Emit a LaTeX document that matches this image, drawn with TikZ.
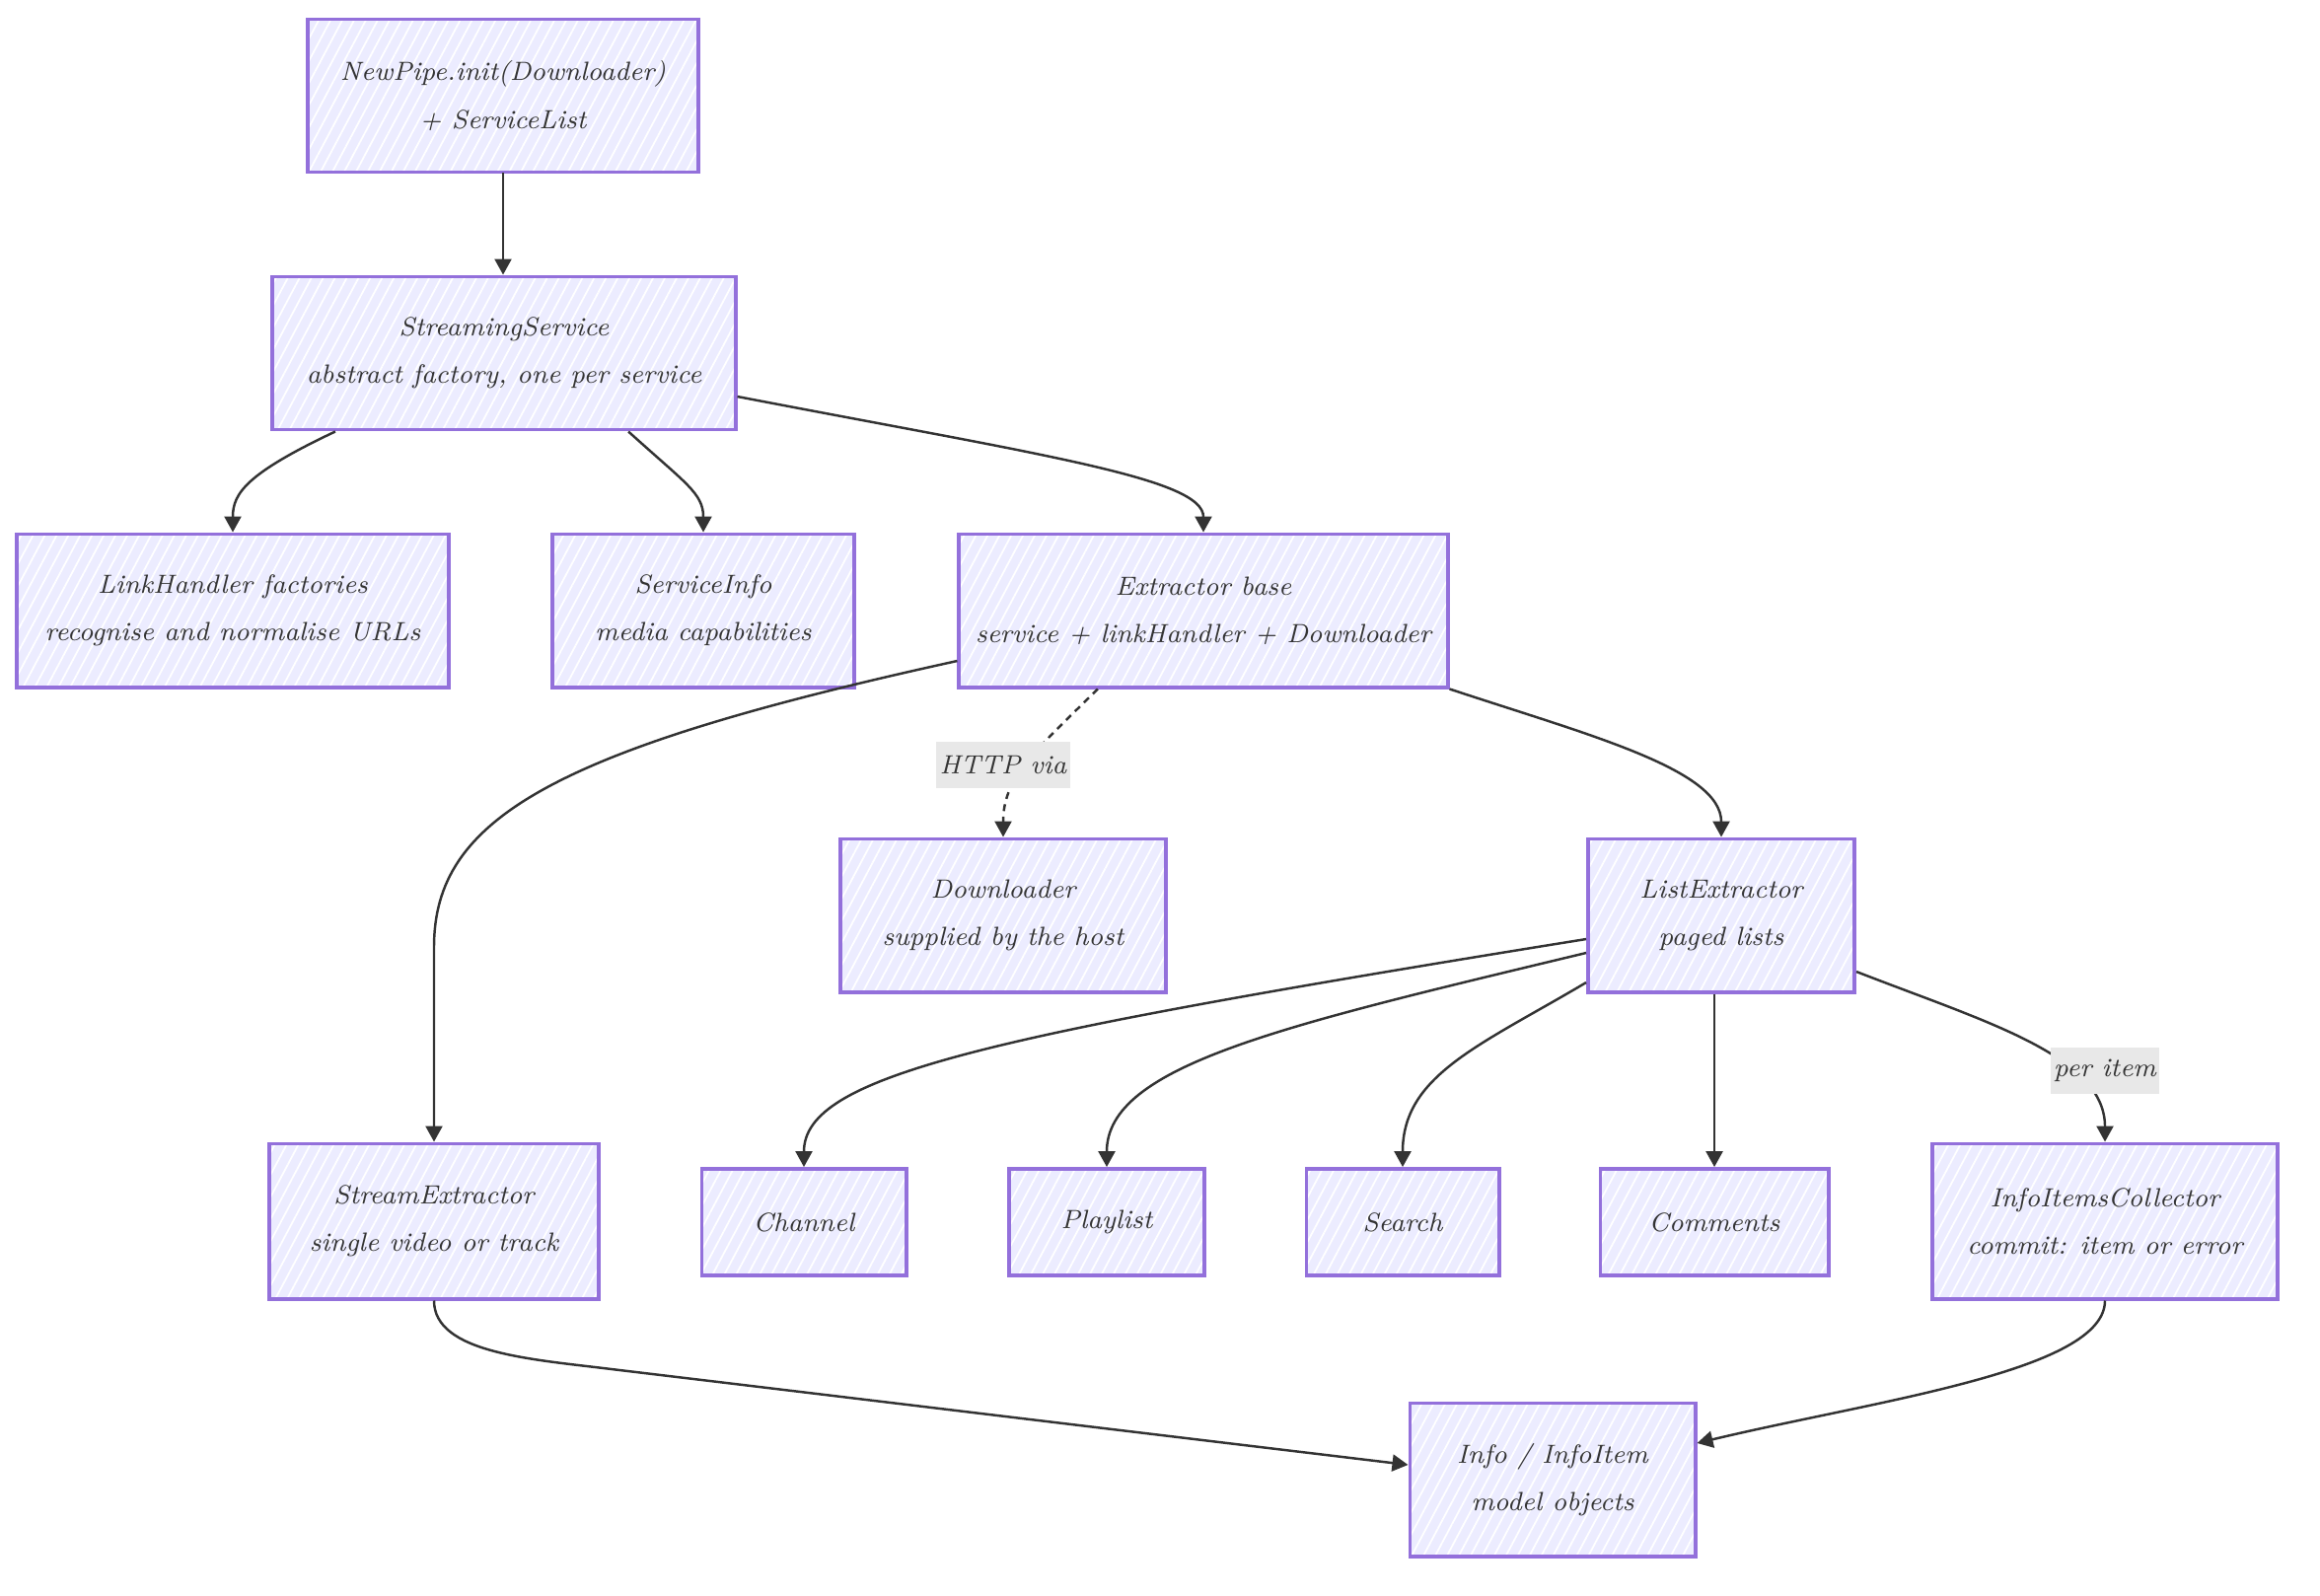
\documentclass[tikz,border=0pt]{standalone}
\usepackage{tikz}
\usetikzlibrary{arrows.meta,patterns.meta}
\definecolor{boxfill}{HTML}{ECECFF}
\definecolor{boxline}{HTML}{9370DB}
\definecolor{edgegray}{HTML}{333333}
\definecolor{lblgray}{HTML}{E8E8E8}
\tikzset{
  box/.style={preaction={fill=boxfill}, draw=boxline, line width=1.1pt, align=center, text=edgegray,
    pattern={Lines[angle=62,distance=3pt,line width=0.5pt]}, pattern color=white,
    minimum height=1.55cm, inner sep=2pt},
  smallbox/.style={box, minimum height=1.08cm},
  lbl/.style={fill=lblgray, text=edgegray, inner sep=1pt, minimum height=0.47cm},
  edge/.style={draw=edgegray, line width=0.7pt, -{Triangle[length=0.16cm,width=0.17cm]}}
}
\begin{document}
\begin{tikzpicture}[x=0.01cm, y=-0.01cm, font=\fontsize{7.6}{13.7}\selectfont\itshape]
\useasboundingbox (0,0) rectangle (2352,1617);
% boxes
\node[box, minimum width=3.96cm] (newpipe) at (510,97) {NewPipe.init(Downloader)\\+ ServiceList};
\node[box, minimum width=4.69cm] (streaming) at (511,358) {StreamingService\\abstract factory, one per service};
\node[box, minimum width=4.37cm] (linkh) at (236,619) {LinkHandler factories\\recognise and normalise URLs};
\node[box, minimum width=3.05cm] (sinfo) at (713,619) {ServiceInfo\\media capabilities};
\node[box, minimum width=4.95cm] (extractor) at (1220,619) {Extractor base\\service + linkHandler + Downloader};
\node[box, minimum width=3.30cm] (downloader) at (1017,928) {Downloader\\supplied by the host};
\node[box, minimum width=2.70cm] (listx) at (1745,928) {ListExtractor\\paged lists};
\node[box, minimum width=3.33cm, minimum height=1.57cm] (streamx) at (440,1238) {StreamExtractor\\single video or track};
\foreach \n/\x/\w/\t in {channel/815/2.07/Channel, playlist/1122/1.98/Playlist,
    search/1422/1.95/Search, comments/1738/2.31/Comments}
  \node[smallbox, minimum width=\w cm] (\n) at (\x,1239) {\t};
\node[box, minimum width=3.50cm, minimum height=1.57cm] (collector) at (2134,1238) {InfoItemsCollector\\commit: item or error};
\node[box, minimum width=2.89cm] (info) at (1574,1500) {Info / InfoItem\\model objects};

% connectors
\draw[edge] (newpipe.south) -- (newpipe.south |- streaming.north);
\draw[edge] ([xshift=-1.71cm]streaming.south) .. controls (250,480) and (236,500) .. (linkh.north);
\draw[edge] ([xshift=1.26cm]streaming.south) .. controls (695,490) and (713,500) .. (sinfo.north);
\draw[edge] ([yshift=-0.44cm]streaming.east) .. controls (1060,462) and (1220,485) .. (extractor.north);
\draw[edge] ([yshift=-0.51cm]extractor.west) .. controls (560,760) and (440,830) .. (440,960) -- (streamx.north);
\draw[edge, dash pattern=on 2pt off 1.6pt] ([xshift=-1.07cm]extractor.south) .. controls (1045,765) and (1017,790) .. (downloader.north);
\draw[edge] (extractor.south east) .. controls (1610,745) and (1745,780) .. (listx.north);
\draw[edge] ([yshift=-0.24cm]listx.west) .. controls (1000,1050) and (815,1090) .. (channel.north);
\draw[edge] ([yshift=-0.38cm]listx.west) .. controls (1300,1040) and (1122,1080) .. (playlist.north);
\draw[edge] ([yshift=-0.68cm]listx.west) .. controls (1500,1060) and (1422,1090) .. (search.north);
\draw[edge] (comments.north |- listx.south) -- (comments.north);
\draw[edge] ([yshift=-0.57cm]listx.east) .. controls (2010,1035) and (2134,1070) .. (collector.north);
\draw[edge] (streamx.south) .. controls (440,1372) and (540,1378) .. (620,1388) -- ([yshift=0.15cm]info.west);
\draw[edge] (collector.south) .. controls (2134,1390) and (1900,1420) .. ([yshift=0.37cm]info.east);

% edge labels
\node[lbl] (httpvia) at (1017,775) {HTTP via};
\node[lbl] (peritem) at (2134,1085) {per item};
\end{tikzpicture}
\end{document}
